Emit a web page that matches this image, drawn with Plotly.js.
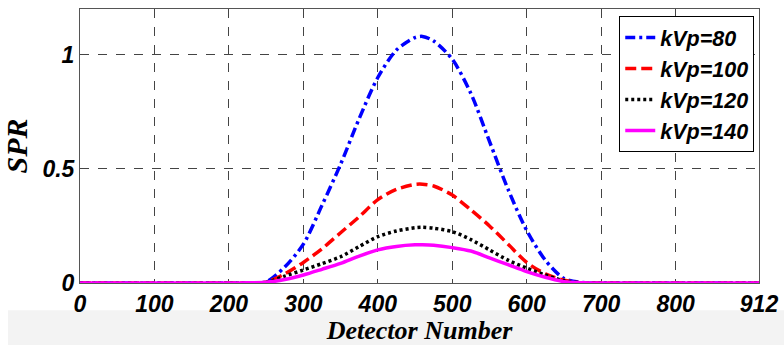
<!DOCTYPE html>
<html>
<head>
<meta charset="utf-8">
<script src="https://cdn.plot.ly/plotly-3.0.1.min.js"></script>
<style>html,body{margin:0;padding:0;background:#fff;}#chart{width:784px;height:345px;}</style>
</head>
<body>
<div id="chart"></div>
<script>
const detector = [0, 50, 100, 150, 200, 225, 250, 275, 300, 325, 350, 375, 400, 425, 450, 460, 475, 500, 525, 550, 575, 600, 625, 650, 675, 700, 750, 800, 850, 912];
const spr80  = [0, 0, 0, 0, 0, 0.001, 0.005, 0.07, 0.17, 0.34, 0.52, 0.72, 0.90, 1.02, 1.075, 1.08, 1.06, 0.98, 0.83, 0.62, 0.41, 0.23, 0.10, 0.02, 0.002, 0, 0, 0, 0, 0];
const spr100 = [0, 0, 0, 0, 0, 0.001, 0.004, 0.04, 0.09, 0.15, 0.22, 0.29, 0.365, 0.41, 0.432, 0.433, 0.425, 0.385, 0.32, 0.25, 0.17, 0.09, 0.04, 0.012, 0.001, 0, 0, 0, 0, 0];
const spr120 = [0, 0, 0, 0, 0, 0.001, 0.003, 0.03, 0.057, 0.085, 0.115, 0.16, 0.203, 0.228, 0.242, 0.244, 0.24, 0.225, 0.19, 0.145, 0.10, 0.065, 0.035, 0.01, 0.001, 0, 0, 0, 0, 0];
const spr140 = [0, 0, 0, 0, 0, 0.001, 0.003, 0.015, 0.035, 0.06, 0.086, 0.118, 0.145, 0.16, 0.167, 0.167, 0.165, 0.155, 0.14, 0.11, 0.08, 0.05, 0.025, 0.006, 0.001, 0, 0, 0, 0, 0];
const seriesNames = ['kVp=80', 'kVp=100', 'kVp=120', 'kVp=140'];
const xTicks = [0, 100, 200, 300, 400, 500, 600, 700, 800, 912];
const yTicks = [0, 0.5, 1];

const styles = [
  {color: '#0000ff', dash: '10px,4px,3px,4px'},
  {color: '#ff0000', dash: '11px,5px'},
  {color: '#000000', dash: '3px,3px'},
  {color: '#ff00ff', dash: 'solid'}
];
const ys = [spr80, spr100, spr120, spr140];
const traces = ys.map((y, i) => ({
  x: detector, y: y, name: seriesNames[i], type: 'scatter', mode: 'lines',
  line: {color: styles[i].color, dash: styles[i].dash, width: 3.5, shape: 'spline', smoothing: 0.8}
}));

const tickFont = {family: 'Arial, Liberation Sans', size: 23, color: '#000', weight: 'bold', style: 'italic'};
const legendFont = {family: 'Arial, Liberation Sans', size: 21.5, color: '#000', weight: 'bold', style: 'italic'};
const layout = {
  width: 784, height: 345,
  margin: {l: 80, r: 25, t: 9, b: 62},
  paper_bgcolor: '#ffffff', plot_bgcolor: '#ffffff',
  showlegend: true,
  legend: {
    x: 0.993, y: 0.974, xanchor: 'right', yanchor: 'top',
    bgcolor: '#ffffff', bordercolor: '#000', borderwidth: 1,
    font: legendFont, itemwidth: 30, tracegroupgap: 0
  },
  xaxis: {
    range: [0, 912], tickvals: xTicks, ticktext: xTicks.map(String),
    showgrid: true, gridcolor: '#444', griddash: 'dash', gridwidth: 1,
    showline: true, mirror: true, linecolor: '#555', linewidth: 1,
    zeroline: false, ticks: '', tickfont: tickFont,
    title: {text: 'Detector Number', font: {family: 'Liberation Serif, Times New Roman', size: 26, style: 'italic', weight: 'bold', color: '#000'}, standoff: 4}
  },
  yaxis: {
    range: [0, 1.2], tickvals: yTicks, ticktext: ['0', '0.5', '1'],
    showgrid: true, gridcolor: '#444', griddash: 'dash', gridwidth: 1,
    showline: true, mirror: true, linecolor: '#555', linewidth: 1,
    zeroline: false, ticks: '', tickfont: tickFont,
    title: {text: 'SPR', font: {family: 'Liberation Serif, Times New Roman', size: 30, style: 'italic', weight: 'bold', color: '#000'}, standoff: 10}
  },
  shapes: [{
    type: 'rect', xref: 'paper', yref: 'paper', layer: 'below',
    x0: -0.106, x1: 1.04, y0: -0.099, y1: -0.23,
    fillcolor: '#f3f3f3', line: {width: 0}
  }]
};
Plotly.newPlot('chart', traces, layout, {displayModeBar: false, staticPlot: true});
</script>
</body>
</html>
